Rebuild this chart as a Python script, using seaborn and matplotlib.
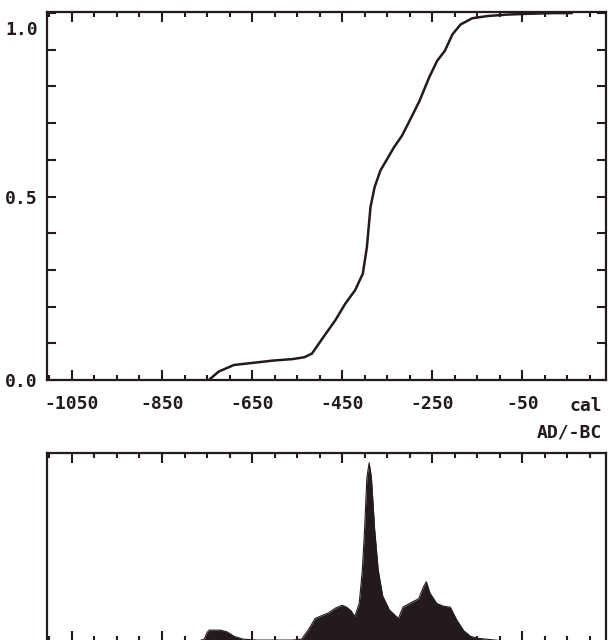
"""
Calibrated radiocarbon date: cumulative probability (top) and
probability distribution (bottom), in the style of an old plotter output.
"""

import numpy as np
import pandas as pd
import matplotlib
matplotlib.use('Agg')
import matplotlib.pyplot as plt
from matplotlib.ticker import FixedLocator, MultipleLocator
import seaborn as sns

# cumulative probability curve
cdf_years = [-746, -724, -690, -646, -603, -560, -534, -517, -491, -465,
             -443, -421, -404, -395, -391, -387, -378, -365, -352, -335,
             -317, -300, -278, -257, -239, -222, -205, -187, -161, -127,
             -83, -40, 20, 60]
cdf_prob = [0, 0.023, 0.041, 0.047, 0.053, 0.057, 0.062, 0.072, 0.118, 0.163,
            0.208, 0.245, 0.29, 0.362, 0.417, 0.471, 0.525, 0.571, 0.598, 0.634,
            0.666, 0.707, 0.761, 0.824, 0.87, 0.897, 0.942, 0.969, 0.986, 0.992,
            0.996, 0.998, 1.0, 1.0]

# probability distribution (relative height)
dens_years = [-770, -756, -750, -745, -720, -705, -690, -670, -640, -600,
              -560, -540, -525, -510, -495, -480, -465, -450, -440, -430,
              -422, -412, -405, -400, -395, -390, -385, -378, -370, -360,
              -345, -325, -315, -300, -280, -270, -263, -255, -240, -225,
              -210, -195, -180, -165, -150, -130, -110, -90]
dens_vals = [0, 0.01, 0.045, 0.058, 0.058, 0.048, 0.025, 0.01, 0.005, 0.005,
             0.005, 0.01, 0.06, 0.12, 0.135, 0.15, 0.175, 0.19, 0.18, 0.16,
             0.13, 0.2, 0.38, 0.6, 0.87, 0.947, 0.87, 0.6, 0.38, 0.24,
             0.165, 0.12, 0.18, 0.2, 0.225, 0.285, 0.315, 0.255, 0.2, 0.185,
             0.18, 0.11, 0.055, 0.025, 0.015, 0.01, 0.005, 0]

tick_years = [-1050, -850, -650, -450, -250, -50]
tick_labels = ['-1050', '-850', '-650', '-450', '-250', '-50']
ytick_vals = [0.0, 0.5]
ytick_labels = ['0.0', '0.5']

INK = '#231b1b'
X_RANGE = (-1106, 136)

sns.set_style('white')
plt.rcParams['font.family'] = ['DejaVu Sans Mono']
plt.rcParams['font.size'] = 13
plt.rcParams['font.weight'] = 'bold'

fig = plt.figure(figsize=(6.09, 6.40), dpi=100)
ax_top = fig.add_axes([0.0767, 0.40625, 0.9184, 0.575])
ax_bot = fig.add_axes([0.0767, -0.0016, 0.9184, 0.294])

cdf = pd.DataFrame({'year': cdf_years, 'p': cdf_prob})
sns.lineplot(data=cdf, x='year', y='p', ax=ax_top, color=INK, lw=1.8)

dens = pd.DataFrame({'year': dens_years, 'd': dens_vals})
ax_bot.fill_between(dens['year'], 0, dens['d'], color=INK, lw=0)
sns.lineplot(data=dens, x='year', y='d', ax=ax_bot, color=INK, lw=0.8)

for ax in (ax_top, ax_bot):
    ax.set_xlim(*X_RANGE)
    ax.set_xlabel('')
    ax.set_ylabel('')
    for s in ax.spines.values():
        s.set_visible(True)
        s.set_color(INK)
        s.set_linewidth(1.6)
    ax.xaxis.set_major_locator(FixedLocator(tick_years))
    ax.xaxis.set_minor_locator(MultipleLocator(50))
    ax.tick_params(axis='x', which='both', direction='in', top=True,
                   bottom=True, color=INK, width=1.5)
    ax.tick_params(axis='x', which='major', length=7)
    ax.tick_params(axis='x', which='minor', length=3.8)

# top panel
ax_top.set_ylim(0, 1.003)
ax_top.set_xticks(tick_years, tick_labels)
ax_top.tick_params(axis='x', which='major', pad=11, labelcolor=INK)
ax_top.set_yticks(ytick_vals, ytick_labels)
ax_top.yaxis.set_minor_locator(MultipleLocator(0.1))
ax_top.tick_params(axis='y', which='both', direction='in', left=True,
                   right=True, length=6.5, width=1.5, color=INK,
                   pad=6.5, labelcolor=INK)
ax_top.annotate('1.0', xy=(0, 1.0), xycoords=('axes fraction', 'data'),
                xytext=(-6.5, -12), textcoords='offset points',
                ha='right', va='center', color=INK)
ax_top.annotate('cal', xy=(0.993, 0), xycoords='axes fraction',
                xytext=(0, -12), textcoords='offset points',
                ha='right', va='top', color=INK)
ax_top.annotate('AD/-BC', xy=(0.993, 0), xycoords='axes fraction',
                xytext=(0, -31), textcoords='offset points',
                ha='right', va='top', color=INK)

# bottom panel
ax_bot.set_ylim(0, 1)
ax_bot.set_yticks([])
ax_bot.tick_params(axis='x', labelbottom=False)

fig.savefig('out.png', dpi=100)
